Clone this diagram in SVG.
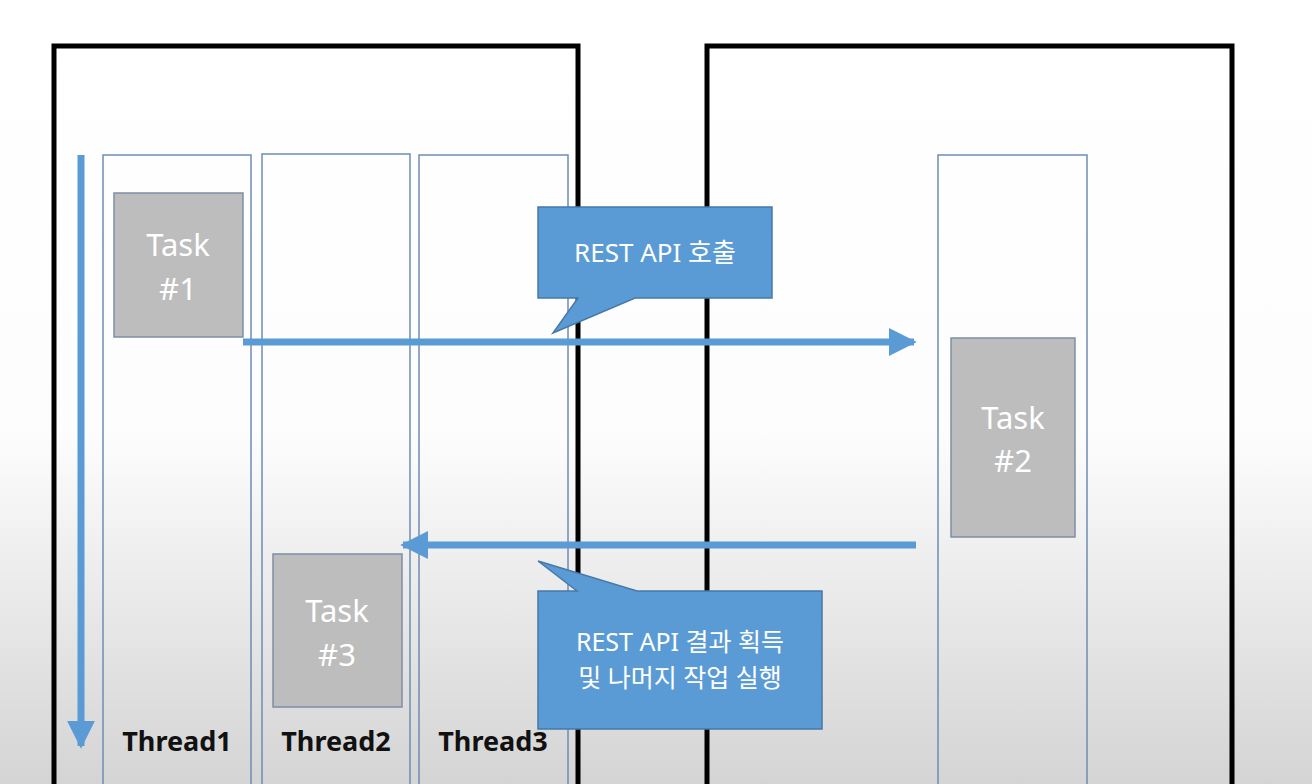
<svg xmlns="http://www.w3.org/2000/svg" width="1312" height="784" viewBox="0 0 1312 784">
<defs>
<linearGradient id="bg" x1="0" y1="0" x2="0" y2="1">
<stop offset="0" stop-color="#ffffff"/>
<stop offset="0.55" stop-color="#fdfdfd"/>
<stop offset="1" stop-color="#d4d4d4"/>
</linearGradient>
<marker id="ah" viewBox="0 0 10 10" refX="9" refY="5" markerWidth="4" markerHeight="4" orient="auto" markerUnits="strokeWidth">
<path d="M0,0 L10,5 L0,10 Z" fill="#5b9bd5"/>
</marker>
<style>
.outer{fill:none;stroke:#000;stroke-width:5}
.col{fill:none;stroke:#6d8db3;stroke-width:1.5}
.task{fill:#bdbdbd;stroke:#7d8fa6;stroke-width:1.5}
.tt{font-family:"Noto Sans","Noto Sans CJK KR",sans-serif;font-size:31px;fill:#fff;text-anchor:middle}
.lbl{font-family:"Noto Sans","Noto Sans CJK KR",sans-serif;font-size:27px;font-weight:bold;fill:#111;text-anchor:middle}
.call{fill:#5b9bd5;stroke:#4679a8;stroke-width:1.5}
.ct{font-family:"Noto Sans","Noto Sans CJK KR",sans-serif;font-size:26px;fill:#fff;text-anchor:middle}
.ct2{font-family:"Noto Sans","Noto Sans CJK KR",sans-serif;font-size:25px;fill:#fff;text-anchor:middle}
.conn{stroke:#5b9bd5;stroke-width:7;fill:none}
</style>
</defs>
<rect x="0" y="0" width="1312" height="784" fill="url(#bg)"/>
<g id="client-box"><rect class="outer" x="54" y="46" width="524" height="760"/></g>
<g id="server-box"><rect class="outer" x="707" y="46" width="525" height="760"/></g>
<g id="thread1"><rect class="col" x="103" y="155" width="148" height="640"/><text class="lbl" x="177" y="751">Thread1</text></g>
<g id="thread2"><rect class="col" x="262" y="154" width="148" height="640"/><text class="lbl" x="336" y="751">Thread2</text></g>
<g id="thread3"><rect class="col" x="419" y="155" width="149" height="640"/><text class="lbl" x="493" y="751">Thread3</text></g>
<g id="server-col"><rect class="col" x="938" y="155" width="149" height="640"/></g>
<g id="connectors">
<line class="conn" x1="81" y1="155" x2="81" y2="746" marker-end="url(#ah)"/>
<line class="conn" x1="243" y1="342" x2="914" y2="342" marker-end="url(#ah)"/>
<line class="conn" x1="916" y1="545" x2="403" y2="545" marker-end="url(#ah)"/>
</g>
<g id="task1"><rect class="task" x="114" y="193" width="129" height="144"/><text class="tt" x="178" y="256">Task</text><text class="tt" x="178" y="300">#1</text></g>
<g id="task2"><rect class="task" x="951" y="338" width="124" height="199"/><text class="tt" x="1013" y="429">Task</text><text class="tt" x="1013" y="472">#2</text></g>
<g id="task3"><rect class="task" x="273" y="554" width="129" height="153"/><text class="tt" x="337" y="622">Task</text><text class="tt" x="337" y="666">#3</text></g>
<g id="callout-call"><path class="call" d="M538,207 H772 V298 H635 L553,333 L578,298 H538 Z"/><text class="ct" x="655" y="262">REST API 호출</text></g>
<g id="callout-result"><path class="call" d="M538,591 H577 L538,561 L637,591 H822 V729 H538 Z"/><text class="ct2" x="680" y="651">REST API 결과 획득</text><text class="ct2" x="680" y="687">및 나머지 작업 실행</text></g>
</svg>
